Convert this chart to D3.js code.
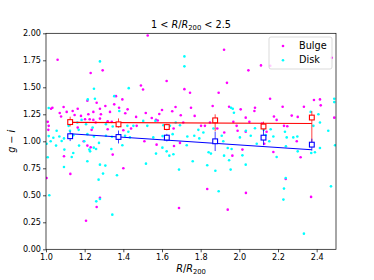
<!DOCTYPE html>
<html>
<head>
<meta charset="utf-8">
<script src="https://cdn.jsdelivr.net/npm/d3@7"></script>
<style>
  body { margin: 0; background: #fff; }
  text { font-family: "DejaVu Sans", sans-serif; }
</style>
</head>
<body>
<svg id="chart" width="374" height="280"></svg>
<script>
// scatter: [R/R200, g-i]
const bulgePoints = [
  [1.526, 1.98], [1.060, 1.755], [1.231, 1.633], [1.293, 1.657], [1.491, 1.516], [1.502, 1.480],
  [1.624, 1.559], [1.716, 1.483], [1.745, 1.449], [1.921, 1.847], [1.936, 1.541], [1.893, 1.449],
  [2.047, 1.657], [2.112, 1.703], [2.478, 1.773], [2.16, 1.70], [1.362, 1.418], [1.395, 1.388],
  [1.262, 1.357], [1.214, 1.376], [1.307, 1.327], [1.331, 1.272], [1.279, 1.302], [1.245, 1.272],
  [1.284, 1.250], [1.353, 1.342], [1.378, 1.311], [1.41, 1.26], [1.422, 1.296], [1.219, 1.250],
  [1.164, 1.302], [1.091, 1.317], [1.071, 1.262], [1.033, 1.311], [1.026, 1.302], [1.009, 1.180],
  [1.014, 1.143], [1.012, 1.106], [1.078, 1.229], [1.107, 1.272], [1.138, 1.281], [1.148, 1.244],
  [1.181, 1.235], [1.202, 1.204], [1.226, 1.204], [1.245, 1.198], [1.257, 1.174], [1.279, 1.210],
  [1.319, 1.186], [1.340, 1.180], [1.466, 1.226], [1.516, 1.262], [1.547, 1.216], [1.569, 1.198],
  [1.578, 1.192], [1.586, 1.253], [1.600, 1.290], [1.653, 1.278], [1.670, 1.317], [1.697, 1.241],
  [1.750, 1.311], [1.769, 1.235], [1.802, 1.143], [1.822, 1.143], [1.848, 1.174], [1.862, 1.327],
  [1.947, 1.320], [1.969, 1.180], [1.986, 1.143], [2.007, 1.296], [2.033, 1.219], [2.052, 1.180],
  [2.078, 1.281], [2.081, 1.311], [2.117, 1.164], [2.159, 1.394], [2.179, 1.229], [2.224, 1.320],
  [2.231, 1.143], [2.248, 1.140], [2.271, 1.238], [2.302, 1.226], [2.334, 1.320], [2.386, 1.382],
  [2.417, 1.388], [2.421, 1.333], [2.491, 1.219], [2.193, 1.198], [2.141, 1.088], [2.033, 1.088],
  [1.991, 1.097], [1.922, 1.082], [1.886, 1.118], [1.710, 1.174], [1.660, 1.118], [1.469, 1.143],
  [1.400, 1.103], [1.440, 1.118], [1.319, 1.112], [1.164, 1.127], [1.236, 1.106],
  [1.003, 0.660], [1.093, 0.861], [1.126, 0.698], [1.195, 1.0], [1.207, 0.265], [1.214, 0.960],
  [1.231, 0.944], [1.262, 0.392], [1.279, 0.478], [1.345, 0.877], [1.400, 0.750], [1.509, 1.0],
  [1.572, 0.969], [1.662, 0.957], [1.693, 0.985], [1.688, 0.383], [1.834, 0.559], [1.940, 0.367],
  [1.964, 0.867], [2.016, 0.923], [2.034, 0.522], [2.129, 0.978], [2.176, 0.901], [2.240, 0.651],
  [2.297, 1.0], [2.317, 0.852], [2.371, 0.485]
];

const diskPoints = [
  [1.279, 1.740], [1.248, 1.486], [1.428, 1.492], [1.253, 1.394], [1.216, 1.388], [1.353, 1.418],
  [1.716, 1.786], [1.716, 1.694], [1.957, 1.311], [2.491, 1.394], [2.491, 1.363], [2.369, 1.272],
  [1.014, 1.308], [1.379, 1.281], [1.184, 1.198], [1.162, 1.174], [1.117, 1.143], [1.055, 1.097],
  [1.124, 1.097], [1.169, 1.106], [1.207, 1.158], [1.241, 1.127], [1.310, 1.158], [1.345, 1.137],
  [1.374, 1.143], [1.421, 1.143], [1.426, 1.088], [1.452, 1.143], [1.503, 1.189], [1.524, 1.143],
  [1.566, 1.189], [1.607, 1.149], [1.641, 1.143], [1.671, 1.174], [1.693, 1.149], [1.788, 1.106],
  [1.814, 1.082], [1.866, 1.118], [1.966, 1.302], [1.972, 1.265], [2.034, 1.097], [2.081, 1.121],
  [2.126, 1.106], [2.162, 1.112], [2.279, 1.036], [2.236, 1.088], [2.417, 1.174], [2.460, 1.097],
  [2.383, 1.143], [2.409, 1.250], [1.014, 1.048], [1.038, 1.033], [1.069, 1.045], [1.093, 1.027],
  [1.141, 1.057], [1.214, 1.066], [1.248, 1.045], [1.310, 1.051], [1.341, 1.042], [1.409, 1.051],
  [1.434, 1.036], [1.555, 1.036], [1.603, 1.048], [1.655, 1.066], [1.731, 1.045], [1.767, 1.051],
  [1.793, 1.027], [1.909, 1.051], [2.003, 1.036], [2.059, 1.051], [2.136, 1.057], [2.176, 1.045],
  [2.245, 1.036], [2.300, 1.045],
  [1.003, 0.978], [1.024, 1.0], [1.052, 0.960], [1.081, 1.003], [1.009, 0.852], [1.095, 0.923],
  [1.133, 0.855], [1.141, 0.892], [1.171, 0.960], [1.198, 1.0], [1.214, 0.815], [1.224, 0.923],
  [1.228, 0.907], [1.247, 0.941], [1.259, 0.929], [1.274, 0.985], [1.279, 0.784], [1.307, 0.775],
  [1.295, 0.701], [1.272, 0.645], [1.093, 0.762], [1.017, 0.500], [1.260, 0.444], [1.279, 0.466],
  [1.343, 0.321], [1.367, 0.685], [1.338, 0.929], [1.395, 0.963], [1.517, 0.793], [1.569, 0.886],
  [1.602, 0.941], [1.624, 0.907], [1.638, 0.867], [1.659, 0.880], [1.688, 0.738], [1.728, 0.963],
  [1.759, 0.815], [1.834, 0.778], [1.841, 0.898], [1.853, 0.886], [1.876, 0.728], [1.893, 0.537],
  [1.917, 1.0], [1.921, 0.867], [1.947, 0.824], [1.940, 0.938], [1.955, 0.738], [1.960, 0.929],
  [2.016, 0.870], [2.033, 0.784], [2.090, 0.978], [2.155, 1.0], [2.193, 0.855], [2.228, 0.460],
  [2.231, 0.562], [2.240, 0.660], [2.241, 0.954], [2.302, 0.907], [2.334, 0.145], [2.372, 0.892],
  [2.391, 0.898], [2.417, 0.938], [2.474, 0.583], [2.495, 0.963]
];

// binned medians + errors
const binCentres = [1.125, 1.375, 1.625, 1.875, 2.125, 2.375];
const bulgeMean = [1.178, 1.157, 1.132, 1.194, 1.137, 1.22];
const bulgeErrUp = [0.05, 0.055, 0.03, 0.056, 0.045, 0.06];
const bulgeErrDown = [0.04, 0.03, 0.03, 0.1, 0.045, 0.25];
const diskMean = [1.047, 1.04, 1.034, 1.0, 1.034, 0.969];
const diskErr = [0.045, 0.06, 0.035, 0.09, 0.07, 0.055];

// linear fits, evaluated at the first and last bin
const fitEnds = [1.125, 2.375];
const bulgeFit = [1.175, 1.165];
const diskFit = [1.07, 0.922];

const xTicks = [1.0, 1.2, 1.4, 1.6, 1.8, 2.0, 2.2, 2.4];
const yTicks = [0, 0.25, 0.5, 0.75, 1.0, 1.25, 1.5, 1.75, 2.0];

const margin = { left: 46, right: 38, top: 33.3, bottom: 30.7 };
const W = 374;
const H = 280;

const svg = d3.select('#chart');

const x = d3.scaleLinear().domain([1.0, 2.5]).range([margin.left, W - margin.right]);
const y = d3.scaleLinear().domain([0, 2.0]).range([H - margin.bottom, margin.top]);

svg.append('clipPath')
  .attr('id', 'plotclip')
  .append('rect')
  .attr('x', margin.left)
  .attr('y', margin.top)
  .attr('width', x.range()[1] - x.range()[0])
  .attr('height', y.range()[0] - y.range()[1]);

const plot = svg.append('g').attr('clip-path', 'url(#plotclip)');

plot.selectAll('.bulge')
  .data(bulgePoints)
  .enter()
  .append('circle')
  .attr('cx', (d) => x(d[0]))
  .attr('cy', (d) => y(d[1]))
  .attr('r', 1.3)
  .attr('fill', '#ff00ff');

plot.selectAll('.disk')
  .data(diskPoints)
  .enter()
  .append('circle')
  .attr('cx', (d) => x(d[0]))
  .attr('cy', (d) => y(d[1]))
  .attr('r', 1.3)
  .attr('fill', '#00ffff');

// fit lines
const line = d3.line().x((d) => x(d[0])).y((d) => y(d[1]));
plot.append('path')
  .datum(fitEnds.map((v, i) => [v, bulgeFit[i]]))
  .attr('d', line)
  .attr('stroke', '#ff0000')
  .attr('stroke-width', 1.2)
  .attr('fill', 'none');
plot.append('path')
  .datum(fitEnds.map((v, i) => [v, diskFit[i]]))
  .attr('d', line)
  .attr('stroke', '#0000ff')
  .attr('stroke-width', 1.2)
  .attr('fill', 'none');

// error bars and square markers
function binned(mean, up, down, colour) {
  const rows = binCentres.map((c, i) => ({ c, m: mean[i], up: up[i], down: down[i] }));
  plot.selectAll(null)
    .data(rows)
    .enter()
    .append('line')
    .attr('x1', (d) => x(d.c))
    .attr('x2', (d) => x(d.c))
    .attr('y1', (d) => y(d.m + d.up))
    .attr('y2', (d) => y(d.m - d.down))
    .attr('stroke', colour)
    .attr('stroke-opacity', 0.75)
    .attr('stroke-width', 1);
  plot.selectAll(null)
    .data(rows)
    .enter()
    .append('rect')
    .attr('x', (d) => x(d.c) - 2.4)
    .attr('y', (d) => y(d.m) - 2.4)
    .attr('width', 4.8)
    .attr('height', 4.8)
    .attr('fill', 'white')
    .attr('stroke', colour)
    .attr('stroke-width', 1.1);
}
binned(bulgeMean, bulgeErrUp, bulgeErrDown, '#ff0000');
binned(diskMean, diskErr, diskErr, '#0000ff');

// axes
const xAxis = d3.axisBottom(x).tickValues(xTicks).tickSize(3).tickPadding(2)
  .tickFormat(d3.format('.1f'));
const yAxis = d3.axisLeft(y).tickValues(yTicks).tickSize(3).tickPadding(2)
  .tickFormat(d3.format('.2f'));

const gx = svg.append('g').attr('transform', `translate(0,${H - margin.bottom})`).call(xAxis);
const gy = svg.append('g').attr('transform', `translate(${margin.left},0)`).call(yAxis);
[gx, gy].forEach((g) => {
  g.select('.domain').remove();
  g.selectAll('line').attr('stroke', '#000').attr('stroke-width', 0.7);
  g.selectAll('text').attr('font-size', '8.1px').attr('fill', '#000')
    .attr('font-family', '"DejaVu Sans", sans-serif');
});

// frame
svg.append('rect')
  .attr('x', margin.left)
  .attr('y', margin.top)
  .attr('width', x.range()[1] - x.range()[0])
  .attr('height', y.range()[0] - y.range()[1])
  .attr('fill', 'none')
  .attr('stroke', '#000')
  .attr('stroke-width', 0.7);

// title  1 < R/R200 < 2.5
const title = svg.append('text')
  .attr('x', (x.range()[0] + x.range()[1]) / 2)
  .attr('y', 28)
  .attr('text-anchor', 'middle')
  .attr('font-size', '9.7px');
title.append('tspan').text('1 < ');
title.append('tspan').attr('font-style', 'italic').text('R');
title.append('tspan').text('/');
title.append('tspan').attr('font-style', 'italic').text('R');
title.append('tspan').attr('font-size', '6.8px').attr('dy', 1.6).text('200');
title.append('tspan').attr('dy', -1.6).text(' < 2.5');

// x label
const xlab = svg.append('text')
  .attr('x', (x.range()[0] + x.range()[1]) / 2)
  .attr('y', 272)
  .attr('text-anchor', 'middle')
  .attr('font-size', '9.7px');
xlab.append('tspan').attr('font-style', 'italic').text('R');
xlab.append('tspan').text('/');
xlab.append('tspan').attr('font-style', 'italic').text('R');
xlab.append('tspan').attr('font-size', '6.8px').attr('dy', 1.6).text('200');

// y label
const ylab = svg.append('text')
  .attr('transform', `translate(15,${(y.range()[0] + y.range()[1]) / 2}) rotate(-90)`)
  .attr('text-anchor', 'middle')
  .attr('font-size', '9.7px');
ylab.append('tspan').attr('font-style', 'italic').text('g');
ylab.append('tspan').text(' \u2212 ');
ylab.append('tspan').attr('font-style', 'italic').text('i');

// legend
const legend = svg.append('g');
legend.append('rect')
  .attr('x', 269)
  .attr('y', 37)
  .attr('width', 63)
  .attr('height', 32)
  .attr('rx', 2)
  .attr('fill', 'white')
  .attr('fill-opacity', 0.8)
  .attr('stroke', '#cccccc')
  .attr('stroke-width', 0.7);
const legendItems = [['Bulge', '#ff00ff'], ['Disk', '#00ffff']];
legendItems.forEach(([name, colour], i) => {
  legend.append('circle')
    .attr('cx', 283)
    .attr('cy', 46 + i * 14.3)
    .attr('r', 1.3)
    .attr('fill', colour);
  legend.append('text')
    .attr('x', 299)
    .attr('y', 49 + i * 14.3)
    .attr('font-size', '9.7px')
    .text(name);
});
</script>
</body>
</html>
